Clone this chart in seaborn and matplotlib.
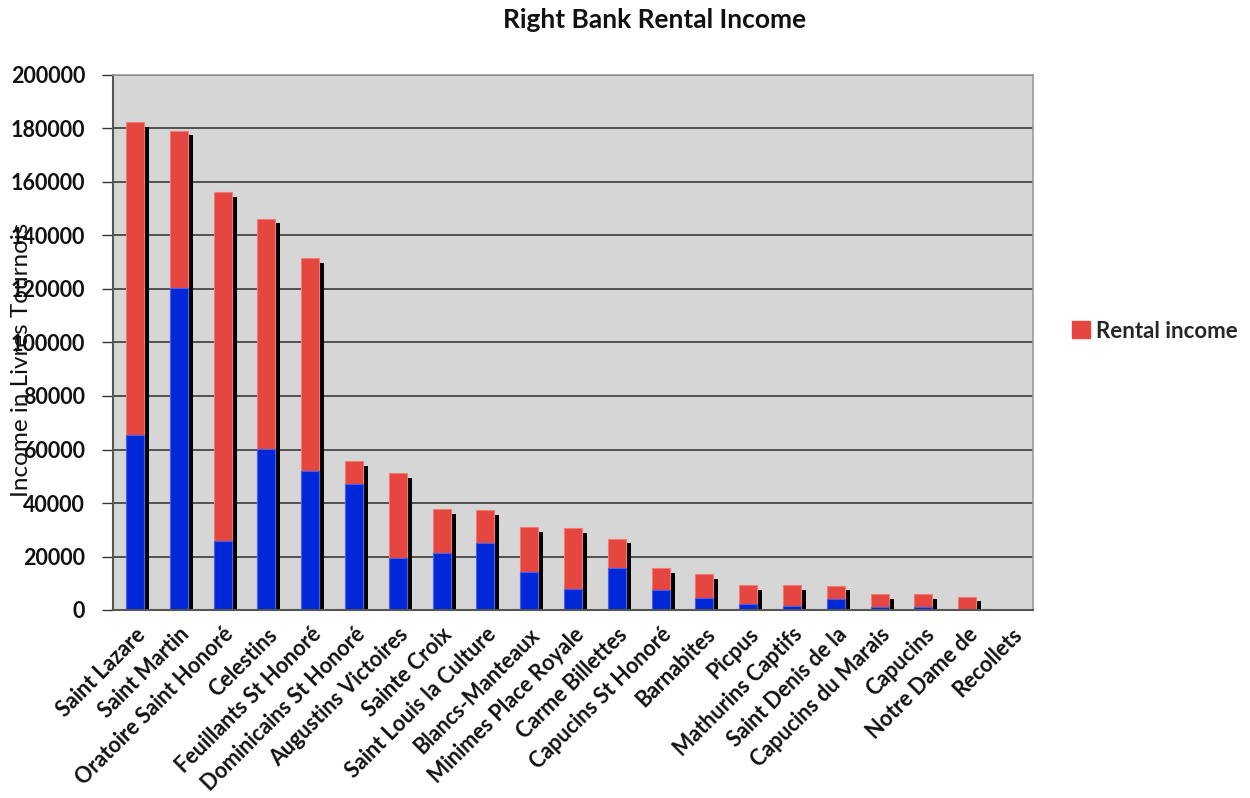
import numpy as np
import pandas as pd
import matplotlib
matplotlib.use("Agg")
import matplotlib.pyplot as plt
import matplotlib.transforms as mtransforms
from matplotlib.patches import Patch
import seaborn as sns

categories = ["Saint Lazare", "Saint Martin", "Oratoire Saint Honoré", "Celestins",
              "Feuillants St Honoré", "Dominicains St Honoré", "Augustins Victoires",
              "Sainte Croix", "Saint Louis la Culture", "Blancs-Manteaux",
              "Minimes Place Royale", "Carme Billettes", "Capucins St Honoré",
              "Barnabites", "Picpus", "Mathurins Captifs", "Saint Denis de la",
              "Capucins du Marais", "Capucins", "Notre Dame de", "Recollets"]
other_income = [65400, 120500, 25800, 60100, 52100, 47000, 19600, 21200, 25000, 14200,
                8000, 15700, 7600, 4500, 2200, 1500, 4200, 1100, 1100, 500, 0]
rental_income = [117000, 58600, 130300, 86100, 79400, 8700, 31500, 16400, 12300, 16700,
                 22500, 11000, 8100, 8800, 7100, 7800, 4800, 4800, 4800, 4400, 0]
yticks = list(range(0, 200001, 20000))

df = pd.DataFrame({"name": categories, "other": other_income, "rental": rental_income})
df["total"] = df["other"] + df["rental"]

sns.set_theme(style="white")
plt.rcParams["font.family"] = ["Lato", "DejaVu Sans"]

fig = plt.figure(figsize=(12.5, 7.98), dpi=100)
ax = fig.add_axes([113/1250, 1-610/798, 920/1250, 535/798])
ax.set_facecolor("#d6d6d6")
ax.set_axisbelow(True)
ax.yaxis.grid(True, color="#3a3a3a", linewidth=1.2)

red = "#e5463f"
blue = "#0028d8"
bw = 0.41

# shadows
n_before = len(ax.patches)
sns.barplot(data=df, x="name", y="total", color="black", width=bw, saturation=1,
            ax=ax, linewidth=0)
shadow_tr = mtransforms.offset_copy(ax.transData, fig=fig, x=5, y=-4.5, units="dots")
for p in ax.patches[n_before:]:
    p.set_transform(shadow_tr)
    p.set_zorder(1)

sns.barplot(data=df, x="name", y="total", color=red, width=bw, saturation=1, ax=ax,
            edgecolor="#f07b76", linewidth=0.8)
sns.barplot(data=df, x="name", y="other", color=blue, width=bw, saturation=1, ax=ax,
            edgecolor="#4b5fe8", linewidth=0.8)
for p in ax.patches[n_before + len(df):]:
    p.set_zorder(2)

n = len(categories)
ax.set_xlim(-0.5, n - 0.5)
ax.set_ylim(0, 200000)
ax.set_yticks(yticks)
ax.set_yticklabels([str(v) for v in yticks], fontsize=15.5, fontweight="bold", color="#111111")
ax.set_xticks(np.arange(n))
ax.set_xticklabels(categories, rotation=45, ha="right", rotation_mode="anchor",
                   fontsize=15.5, fontweight="bold", color="#111111")
ax.set_xticks(np.arange(n + 1) - 0.5, minor=True)
ax.tick_params(axis="x", which="major", length=0, pad=10)
ax.tick_params(axis="x", which="minor", length=7, width=1, color="#333333", direction="out")
ax.tick_params(axis="y", which="major", length=8, width=1, color="#333333", direction="out",
               left=True, pad=12)

for s in ["left", "bottom"]:
    ax.spines[s].set_color("#555555")
    ax.spines[s].set_linewidth(1.5)
for s in ["top", "right"]:
    ax.spines[s].set_color("#9a9a9a")
    ax.spines[s].set_linewidth(1.2)
    ax.spines[s].set_visible(True)

ax.set_xlabel("")
ax.set_ylabel("Income in Livres Tournois", fontsize=17.5, color="#111111", va="center")
ax.yaxis.set_label_coords(-0.099, 0.467)

fig.text(0.524, 0.975, "Right Bank Rental Income", ha="center", va="center",
         fontsize=19, fontweight="bold", color="#111111")

ax.legend(handles=[Patch(facecolor=red, edgecolor=red)], labels=["Rental income"],
          loc="center left", bbox_to_anchor=(1052/1250, 1-331/798),
          bbox_transform=fig.transFigure, frameon=False, handlelength=0.8,
          handleheight=0.8, handletextpad=0.3,
          prop={"size": 16, "weight": "bold"})

fig.savefig("out.png", dpi=100)
